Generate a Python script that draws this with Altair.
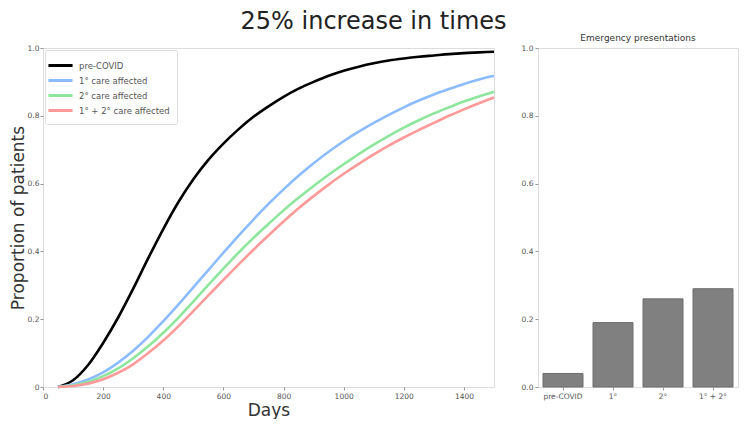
import altair as alt
import pandas as pd

days = [50, 100, 150, 200, 250, 300, 350, 400, 450, 500, 550, 600, 650, 700, 750,
        800, 850, 900, 950, 1000, 1050, 1100, 1150, 1200, 1250, 1300, 1350, 1400, 1450, 1500]

pre_covid = [0.0, 0.02, 0.065, 0.13, 0.205, 0.29, 0.38, 0.466, 0.545, 0.613, 0.67, 0.718, 0.76, 0.797, 0.828,
             0.856, 0.88, 0.90, 0.918, 0.933, 0.945, 0.955, 0.963, 0.969, 0.974, 0.978, 0.982, 0.985, 0.987, 0.989]
primary = [0.0, 0.008, 0.022, 0.043, 0.072, 0.107, 0.148, 0.194, 0.243, 0.294, 0.345, 0.396, 0.446, 0.494, 0.54,
           0.583, 0.623, 0.66, 0.694, 0.725, 0.753, 0.779, 0.803, 0.825, 0.845, 0.863, 0.879, 0.894, 0.907, 0.918]
secondary = [0.0, 0.005, 0.015, 0.032, 0.055, 0.085, 0.12, 0.16, 0.204, 0.252, 0.301, 0.349, 0.396, 0.44, 0.481,
             0.521, 0.558, 0.593, 0.626, 0.657, 0.687, 0.715, 0.741, 0.765, 0.787, 0.807, 0.825, 0.842, 0.857, 0.871]
both = [0.0, 0.003, 0.01, 0.023, 0.042, 0.067, 0.1, 0.137, 0.179, 0.224, 0.27, 0.316, 0.361, 0.405, 0.447,
        0.488, 0.527, 0.563, 0.597, 0.629, 0.658, 0.686, 0.712, 0.736, 0.758, 0.779, 0.80, 0.819, 0.837, 0.854]

series_names = ["pre-COVID", "1° care affected", "2° care affected", "1° + 2° care affected"]
series_colors = ["#000000", "#8cbcff", "#8ee69c", "#ff9a9a"]

bar_labels = ["pre-COVID", "1°", "2°", "1° + 2°"]
bar_values = [0.04, 0.19, 0.26, 0.29]

rows = []
for name, vals in zip(series_names, [pre_covid, primary, secondary, both]):
    for d, v in zip(days, vals):
        rows.append({"day": d, "p": v, "series": name})
lines_df = pd.DataFrame(rows)
bars_df = pd.DataFrame({"group": bar_labels, "value": bar_values})

FONT = "DejaVu Sans"
axis_common = dict(labelFontSize=7.5, labelColor="#555555", tickColor="#999999", tickSize=3,
                   domain=False, grid=False, titleFontWeight="normal", titleColor="#333333",
                   labelFont=FONT, titleFont=FONT)

left = alt.Chart(lines_df).mark_line(strokeWidth=2.6, interpolate="monotone").encode(
    x=alt.X("day:Q", scale=alt.Scale(domain=[0, 1500], nice=False),
            axis=alt.Axis(values=[0, 200, 400, 600, 800, 1000, 1200, 1400], title="Days", format="d",
                          titleFontSize=17, titlePadding=3, labelPadding=2, **axis_common)),
    y=alt.Y("p:Q", scale=alt.Scale(domain=[0, 1], nice=False),
            axis=alt.Axis(values=[0, 0.2, 0.4, 0.6, 0.8, 1.0], title="Proportion of patients",
                          labelExpr="datum.value == 0 ? '0' : format(datum.value, '.1f')",
                          titleFontSize=17, titlePadding=0, labelPadding=1, **axis_common)),
    color=alt.Color("series:N", scale=alt.Scale(domain=series_names, range=series_colors),
                    legend=alt.Legend(title=None, orient="top-left", offset=2,
                                      symbolType="M-1.75,0H1.75", symbolFillColor="transparent",
                                      symbolStrokeWidth=3, symbolSize=190, labelFontSize=8.5,
                                      labelColor="#555555", labelFont=FONT, strokeColor="#dddddd",
                                      fillColor="white", padding=7, rowPadding=-1, cornerRadius=2,
                                      labelOffset=10)),
    order=alt.Order("day:Q"),
).properties(width=451, height=339)

right = alt.Chart(bars_df).mark_bar(color="#808080", stroke="#6e6e6e", strokeWidth=1).encode(
    x=alt.X("group:N", sort=bar_labels,
            scale=alt.Scale(paddingInner=0.2, paddingOuter=0.1),
            axis=alt.Axis(title=None, labelAngle=0, labelPadding=2, **axis_common)),
    y=alt.Y("value:Q", scale=alt.Scale(domain=[0, 1], nice=False),
            axis=alt.Axis(values=[0, 0.2, 0.4, 0.6, 0.8, 1.0], format=".1f", title=None,
                          labelPadding=2, **axis_common)),
).properties(width=200, height=339,
             title=alt.TitleParams("Emergency presentations", fontSize=9, fontWeight="normal",
                                   color="#333333", font=FONT, offset=1))

chart = alt.hconcat(left, right, spacing=20).properties(
    title=alt.TitleParams("25% increase in times", fontSize=24, fontWeight="normal",
                          color="#222222", font=FONT, anchor="middle", offset=0),
    padding={"left": 0, "top": 1, "right": 0, "bottom": 0},
).configure_view(stroke="#cccccc", strokeWidth=2).configure(font=FONT)

chart.save("out.html", embed_options={"renderer": "svg", "actions": False})
